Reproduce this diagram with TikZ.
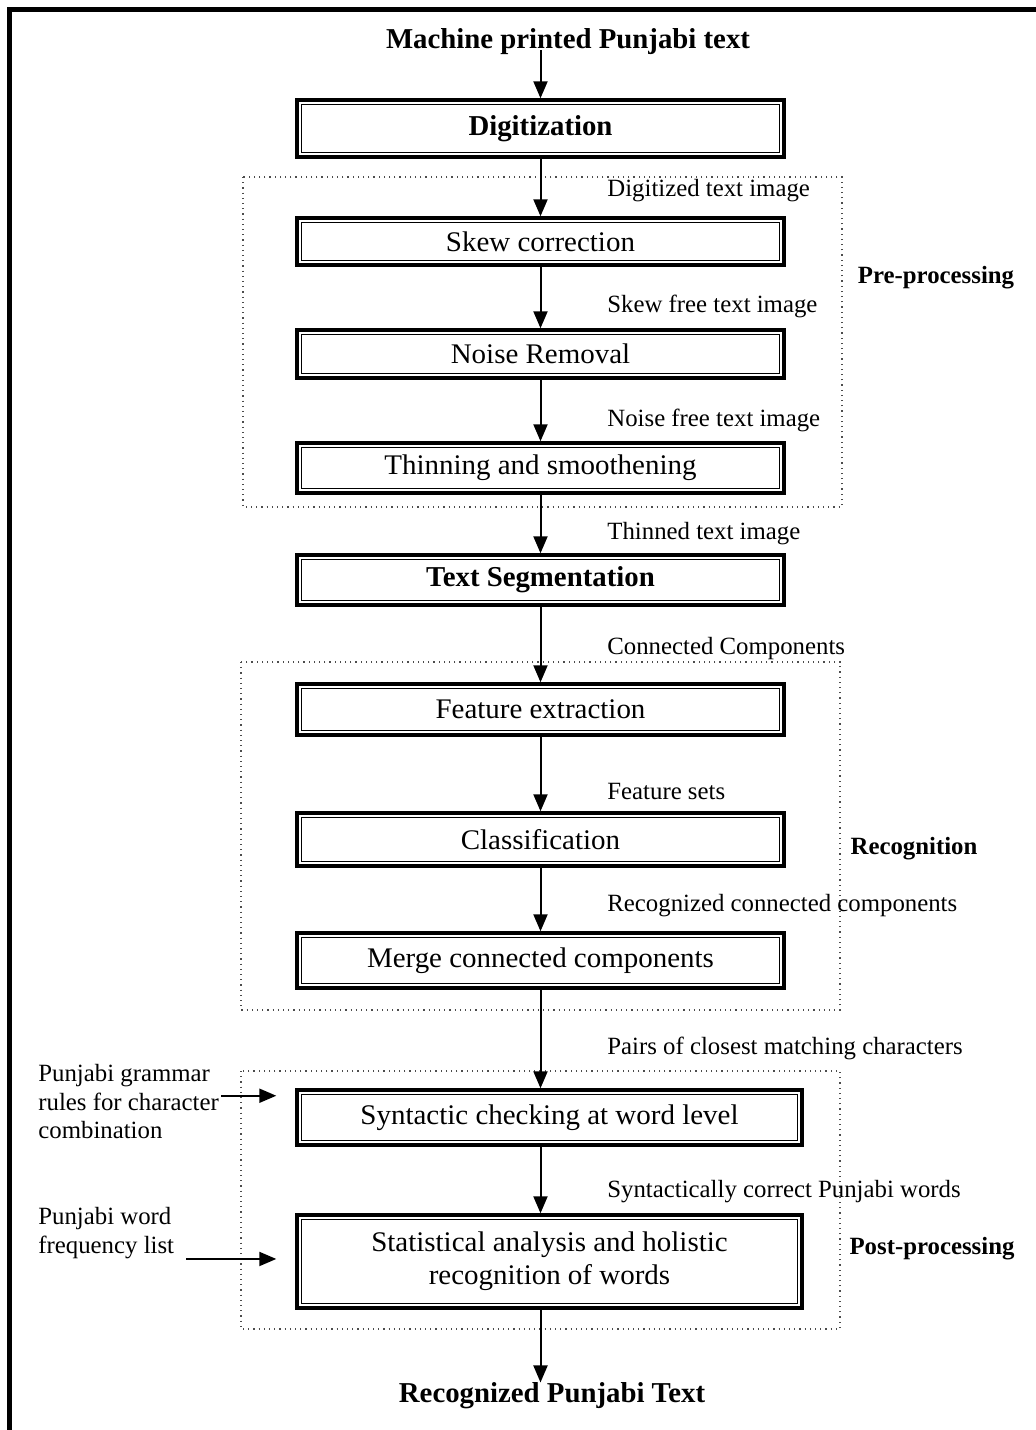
\documentclass[tikz,border=0pt]{standalone}
\usepackage{fontspec}
\setmainfont{Liberation Serif}
\newfontfamily\boxfont[FakeStretch=1.02]{Liberation Serif}
\usetikzlibrary{positioning,arrows.meta}

\tikzset{
  stepbox/.style={draw, line width=1.7pt, minimum width=243.5pt, inner sep=0pt,
    align=center, font=\boxfont\fontsize{14.2}{16.5}\selectfont,
    path picture={\draw[line width=.6pt]
      ([shift={(2.1pt,-2.1pt)}]path picture bounding box.north west) rectangle
      ([shift={(-2.1pt,2.1pt)}]path picture bounding box.south east);}},
  widebox/.style={stepbox, minimum width=252.5pt},
  headtext/.style={font=\bfseries\fontsize{14.4}{17}\selectfont},
  steplabel/.style={anchor=west, inner sep=0pt, font=\fontsize{12.4}{14.5}\selectfont},
  sidelabel/.style={inner sep=0pt, font=\bfseries\fontsize{12.4}{14.5}\selectfont},
  inlabel/.style={anchor=north west, inner sep=0pt, align=left, font=\fontsize{12.4}{14.3}\selectfont},
  arr/.style={-{Triangle[width=7pt,length=8.5pt]}, line width=1pt},
  stage/.style={dotted, line width=.6pt, black!70}
}

\begin{document}
\begin{tikzpicture}[x=0.5pt, y=-0.5pt]
  \useasboundingbox (0,0) rectangle (1035,1430);
  \draw[line width=2.5pt] (9.5,1440) -- (9.5,9.5) -- (1045,9.5);

  \draw[stage] (243,177) rectangle (842,507);
  \draw[stage] (241,662) rectangle (840,1010);
  \draw[stage] (241,1071) rectangle (840,1329);

  \node[headtext, inner sep=0pt] (title) at (568,42) {Machine printed Punjabi text};
  \coordinate (in) at (540.5,50);

  \node[stepbox, headtext, minimum height=28.5pt] (digit) at (540.5,128.5) {Digitization};
  \node[stepbox, minimum height=23.5pt] (skew) at (540.5,241.5) {Skew correction};
  \node[stepbox, minimum height=24pt] (noise) at (540.5,354) {Noise Removal};
  \node[stepbox, minimum height=25pt] (thin) at (540.5,468) {Thinning and smoothening};
  \node[stepbox, headtext, minimum height=25pt] (seg) at (540.5,580) {Text Segmentation};
  \node[stepbox, minimum height=25.5pt] (feat) at (540.5,709.5) {Feature extraction};
  \node[stepbox, minimum height=26.5pt] (class) at (540.5,839.5) {Classification};
  \node[stepbox, minimum height=27.5pt] (merge) at (540.5,960.5) {Merge connected components};
  \node[widebox, minimum height=27.5pt] (syn) at (549.5,1117.5) {Syntactic checking at word level};
  \node[widebox, minimum height=46.5pt] (stat) at (549.5,1261.5) {Statistical analysis and holistic\\recognition of words};

  \node[headtext, inner sep=0pt] (out) at (552,1396) {Recognized Punjabi Text};

  \node[steplabel] (l1) at (607,191) {Digitized text image};
  \node[steplabel] (l2) at (607,306) {Skew free text image};
  \node[steplabel] (l3) at (607,420) {Noise free text image};
  \node[steplabel] (l4) at (607,534) {Thinned text image};
  \node[steplabel] (l5) at (607,649) {Connected Components};
  \node[steplabel] (l6) at (607,791) {Feature sets};
  \node[steplabel] (l7) at (607,906) {Recognized connected components};
  \node[steplabel] (l8) at (607,1048) {Pairs of closest matching characters};
  \node[steplabel] (l9) at (607,1192) {Syntactically correct Punjabi words};

  \node[sidelabel] (pre) at (936,278) {Pre-processing};
  \node[sidelabel] (recog) at (914,849) {Recognition};
  \node[sidelabel] (post) at (932,1249) {Post-processing};

  \node[inlabel] (grammar) at (38,1064) {Punjabi grammar\\rules for character\\combination};
  \node[inlabel] (freq) at (38,1207) {Punjabi word\\frequency list};

  \draw[arr] (in) -- (digit);
  \draw[arr] (digit) -- (skew);
  \draw[arr] (skew) -- (noise);
  \draw[arr] (noise) -- (thin);
  \draw[arr] (thin) -- (seg);
  \draw[arr] (seg) -- (feat);
  \draw[arr] (feat) -- (class);
  \draw[arr] (class) -- (merge);
  \draw[arr] (merge) -- (merge |- syn.north);
  \draw[arr] (merge |- syn.south) -- (merge |- stat.north);
  \draw[arr] (merge |- stat.south) -- (merge |- out.north);
  \draw[arr, shorten >=9.5pt] ([shift={(1pt,3pt)}]grammar.east) -- ([yshift=3pt]grammar.east -| syn.west);
  \draw[arr, shorten >=9.5pt] ([xshift=6pt]freq.south east) -- (freq.south east -| stat.west);
\end{tikzpicture}
\end{document}
